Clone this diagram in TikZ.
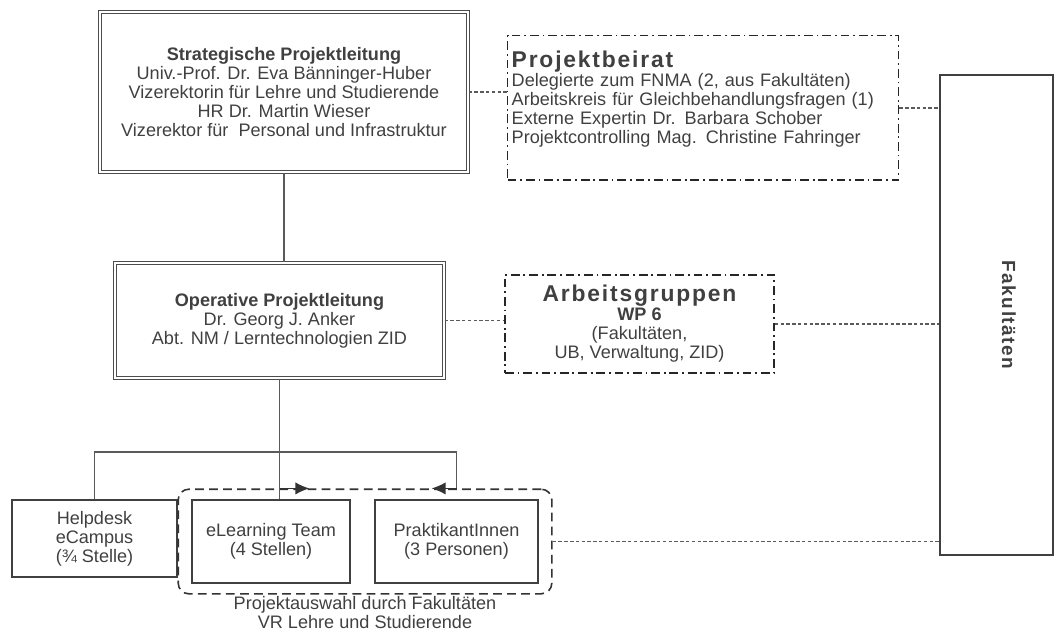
\documentclass[tikz,border=0pt]{standalone}
\usepackage{fontspec}
\usepackage{graphicx}
\setmainfont{Liberation Sans}
\newfontfamily\widefont[LetterSpace=8]{Liberation Sans}
\usetikzlibrary{arrows.meta,positioning,fit}
\definecolor{txtgray}{HTML}{404040}
\definecolor{linegray}{HTML}{5A5A5A}

\begin{document}
\begin{tikzpicture}[
  font=\fontsize{10.3}{10.8}\selectfont,
  lead/.style={draw=black!70,double=white,double distance=1.6pt,line width=0.6pt,text=txtgray,align=center,inner sep=2pt},
  adv/.style={draw=black!85,line width=0.8pt,dash pattern=on 5pt off 2.2pt on 1pt off 2.2pt,text=txtgray},
  unit/.style={draw=black!75,line width=0.9pt,text=txtgray,align=center},
  grp/.style={draw=black!80,line width=0.9pt,dash pattern=on 5pt off 3pt,rounded corners=6pt},
  mk/.style={black!80,line width=0.9pt,-{Latex[length=8pt,width=7pt]}},
  lk/.style={linegray,line width=0.7pt,dash pattern=on 2pt off 1.3pt},
  ln/.style={linegray,line width=0.8pt}]
\useasboundingbox (0,0) rectangle (21.1,-12.64);
% ---------- leitung ----------
\node[lead,minimum width=7.36cm,minimum height=3.2cm] (st) at (5.68,-1.84) {\textbf{Strategische Projektleitung}\\Univ.-Prof. Dr. Eva Bänninger-Huber\\Vizerektorin für Lehre und Studierende\\HR Dr. Martin Wieser\\Vizerektor für~ Personal und Infrastruktur};
\node[lead,minimum width=6.58cm,minimum height=2.3cm] (op) at (5.59,-6.41) {\textbf{Operative Projektleitung}\\Dr. Georg J. Anker\\Abt. NM / Lerntechnologien ZID};
% ---------- gremien ----------
\node[adv,anchor=north west,text width=7.66cm,align=left,inner xsep=0.08cm,inner ysep=0.3cm] (pb) at (10.14,-0.70) {{\widefont\bfseries\fontsize{13}{10.8}\selectfont Projektbeirat}\\Delegierte zum FNMA (2, aus Fakultäten)\\Arbeitskreis für Gleichbehandlungsfragen (1)\\Externe Expertin Dr. Barbara Schober\\Projektcontrolling Mag. Christine Fahringer\rule[-0.44cm]{0pt}{0pt}};
\node[adv,align=center,minimum width=5.38cm,minimum height=1.96cm] (ag) at (12.79,-6.48) {{\widefont\bfseries\fontsize{13}{10.8}\selectfont Arbeitsgruppen}\\\textbf{WP 6}\\(Fakultäten,\\UB, Verwaltung, ZID)};
\node[unit,minimum width=2.26cm,minimum height=9.6cm] (fak) at (19.93,-6.3) {\hspace*{0.5cm}\raisebox{0.6cm}{\rotatebox{-90}{\widefont\bfseries\fontsize{10.8}{11}\selectfont Fakultäten}}};
% ---------- untere reihe ----------
\node[unit,minimum width=3.3cm,minimum height=1.54cm] (hd) at (1.89,-10.77) {Helpdesk\\eCampus\\(¾ Stelle)};
\node[unit,minimum width=3.16cm,minimum height=1.66cm] (el) at (5.42,-10.83) {eLearning Team\\(4 Stellen)};
\node[unit,minimum width=3.26cm,minimum height=1.66cm] (pk) at (9.13,-10.83) {PraktikantInnen\\(3 Personen)};
\node[grp,fit=(el)(pk),inner xsep=0.26cm,inner ysep=0.2cm] (gr) {};
\node[text=txtgray,align=center,below=0pt of gr,inner sep=1pt] (ga) {Projektauswahl durch Fakultäten\\VR Lehre und Studierende};
% ---------- verbindungen ----------
\coordinate (bus) at (0,-9.04);
\draw[ln] (st.south) -- (st.south |- op.north);
\draw[ln] (op.south) -- (op.south |- el.north);
\draw[ln] (hd.north) |- (pk.north |- bus) -- (pk.north |- gr.north);
\draw[mk] (op.south |- gr.north) -- ++(0.6,0);
\draw[mk] (pk.north |- gr.north) -- ++(-0.5,0);
\foreach \a/\b in {st/pb,op/ag}{\draw[lk] (\a.east) -- (\a.east -| \b.west);}
\foreach \n in {pb,ag,gr}{\draw[lk] (\n.east) -- (\n.east -| fak.west);}
\end{tikzpicture}
\end{document}
